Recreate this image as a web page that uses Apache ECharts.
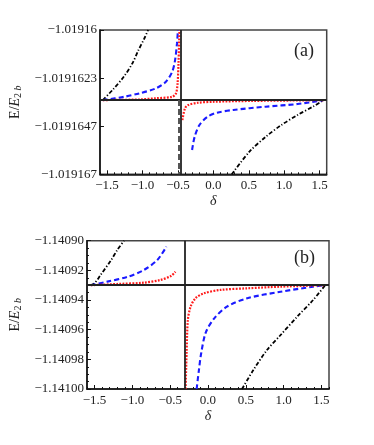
<!DOCTYPE html>
<html>
<head>
<meta charset="utf-8">
<script src="https://cdn.jsdelivr.net/npm/echarts@6/dist/echarts.min.js"></script>
<style>
  html, body { margin: 0; background: #fff; }
  #chart { width: 374px; height: 445px; }
</style>
</head>
<body>
<div id="chart"></div>
<script>
// δ axis (shared by both panels)
const deltaMin = -1.6, deltaMax = 1.6;
const deltaTicks = [-1.5, -1.0, -0.5, 0.0, 0.5, 1.0, 1.5];
const deltaLabels = ['−1.5', '−1.0', '−0.5', '0.0', '0.5', '1.0', '1.5'];

// panel (a): E/E2b as units of 1e-7 above -1.019167
const aTickLabels = ['−1.019167', '−1.0191647', '−1.0191623', '−1.01916'];
const aYMax = 70;
const aLevel = 36;          // threshold line
const aPoleSolid = -0.455;  // solid vertical line
const aPoleDashed = -0.493; // dashed vertical line (below threshold)
const aBlackLeft = [[-1.56, 36], [-1.42, 41], [-1.26, 47.5], [-1.14, 54], [-1.06, 60], [-0.98, 65.5], [-0.92, 70]];
const aBlackRight = [[0.26, 0], [0.51, 11], [0.74, 18.2], [0.96, 23.9], [1.19, 28.8], [1.42, 33.1], [1.56, 36]];
const aBlueLeft = [[-1.56, 36], [-1.26, 37.6], [-1.04, 39.3], [-0.81, 41.7], [-0.67, 44.9], [-0.58, 49.8], [-0.54, 55.4], [-0.513, 63.5], [-0.50, 70]];
const aBlueRight = [[-0.30, 11.8], [-0.264, 18.2], [-0.196, 23.9], [-0.082, 27.9], [0.054, 29.9], [0.28, 31.2], [0.74, 32.8], [1.19, 34.1], [1.56, 36]];
const aRedLeft = [[-1.56, 36], [-1.04, 36.3], [-0.81, 36.9], [-0.58, 37.6], [-0.527, 39.3], [-0.505, 44.1], [-0.492, 53.8], [-0.482, 65.1], [-0.478, 70]];
const aRedRight = [[-0.437, 26.3], [-0.40, 32], [-0.355, 33.6], [-0.22, 34.7], [0.01, 35.2], [0.55, 35.6], [1.1, 35.8], [1.56, 36]];

// panel (b): E/E2b as units of 1e-6 above -1.14100
const bTickLabels = ['−1.14100', '−1.14098', '−1.14096', '−1.14094', '−1.14092', '−1.14090'];
const bYMax = 100;
const bLevel = 70;
const bPole = -0.31;
const bBlackLeft = [[-1.55, 70], [-1.50, 71.3], [-1.42, 76.9], [-1.28, 87], [-1.20, 93.7], [-1.11, 100]];
const bBlackRight = [[0.45, 0], [0.60, 12.8], [0.78, 26.3], [0.96, 36.4], [1.18, 48.8], [1.39, 60], [1.55, 70]];
const bBlueLeft = [[-1.55, 70], [-1.33, 72.4], [-1.06, 75.7], [-0.85, 80.2], [-0.67, 87], [-0.55, 96]];
const bBlueRight = [[-0.15, 0], [-0.12, 12.8], [-0.09, 24.1], [-0.03, 38], [0.08, 47.5], [0.25, 55.5], [0.52, 61.2], [0.96, 65.6], [1.39, 69], [1.55, 70]];
const bRedLeft = [[-1.55, 70], [-1.20, 70.8], [-0.85, 71.7], [-0.63, 73.5], [-0.49, 76.2], [-0.43, 79.1]];
const bRedRight = [[-0.296, 0], [-0.283, 24.1], [-0.266, 46.5], [-0.23, 55.5], [-0.165, 61.2], [-0.055, 64.5], [0.165, 66.8], [0.52, 67.9], [0.96, 69], [1.55, 70]];

const serif = 'Liberation Serif, Times New Roman, serif';
const minorDelta = Array.from({ length: 33 }, (_, i) => +(deltaMin + i * 0.1).toFixed(1));

const lineBlack = { color: '#000', width: 1.8, type: [4, 2, 1.2, 2] };
const lineBlue = { color: '#1a1aff', width: 2.1, type: [5, 3] };
const lineRed = { color: '#ff1a1a', width: 2.2, type: [1.8, 1.4] };

const chart = echarts.init(document.getElementById('chart'));

const grids = [
  { left: 92, top: 30, width: 234.7, height: 144.3 },
  { left: 86, top: 240.7, width: 243, height: 148.3 }
];

function mainX(g, gap) {
  return {
    gridIndex: g, type: 'value', position: 'bottom', min: deltaMin, max: deltaMax,
    name: 'δ', nameLocation: 'middle', nameGap: gap,
    nameTextStyle: { fontFamily: serif, fontStyle: 'italic', fontSize: 14, color: '#222' },
    axisLine: { show: true, onZero: false, lineStyle: { color: '#111', width: 1.5 } },
    axisTick: { inside: true, length: 4, customValues: deltaTicks, lineStyle: { color: '#111' } },
    axisLabel: {
      customValues: deltaTicks, margin: 5, fontFamily: serif, fontSize: 13, color: '#222',
      formatter: v => deltaLabels[deltaTicks.findIndex(t => Math.abs(t - v) < 1e-9)]
    },
    splitLine: { show: false }
  };
}
function minorX(g) {
  return {
    gridIndex: g, type: 'value', position: 'bottom', min: deltaMin, max: deltaMax,
    axisLine: { show: false, onZero: false },
    axisTick: { inside: true, length: 2, customValues: minorDelta, lineStyle: { color: '#111' } },
    axisLabel: { show: false }, splitLine: { show: false }
  };
}
function mainY(g, max, interval, labels, gap, minor) {
  return {
    gridIndex: g, type: 'value', min: 0, max: max, interval: interval,
    name: '{n|E/}{i|E}{s|2 }{si|b}', nameLocation: 'middle', nameGap: gap,
    nameTextStyle: {
      fontFamily: serif, fontSize: 14, color: '#222',
      rich: {
        n: { fontFamily: serif, fontSize: 14, color: '#222' },
        i: { fontFamily: serif, fontSize: 14, fontStyle: 'italic', color: '#222' },
        s: { fontFamily: serif, fontSize: 10, color: '#222', verticalAlign: 'bottom', padding: [7, 0, 0, 0] },
        si: { fontFamily: serif, fontSize: 10, fontStyle: 'italic', color: '#222', verticalAlign: 'bottom', padding: [7, 0, 0, 0] }
      }
    },
    axisLine: { show: true, onZero: false, lineStyle: { color: '#111', width: 1.5 } },
    axisTick: { inside: true, length: 4, lineStyle: { color: '#111' } },
    minorTick: { show: minor, splitNumber: 4, length: 2, lineStyle: { color: '#111' } },
    axisLabel: {
      margin: 3, fontFamily: serif, fontSize: 13, color: '#222',
      formatter: (v, i) => labels[i]
    },
    splitLine: { show: false }
  };
}

function curve(name, xi, yi, data, style) {
  return {
    name: name, type: 'line', xAxisIndex: xi, yAxisIndex: yi, data: data,
    showSymbol: false, smooth: 0.3, lineStyle: style, z: 3
  };
}

const refStyle = { color: '#222', width: 1.8, type: 'solid' };

chart.setOption({
  animation: false,
  grid: grids.map(g => Object.assign({ show: true, borderColor: '#444', borderWidth: 1.5, backgroundColor: 'transparent' }, g)),
  xAxis: [mainX(0, 20), minorX(0), mainX(1, 20), minorX(1)],
  yAxis: [
    mainY(0, aYMax, aYMax / 3, aTickLabels, 68, false),
    mainY(1, bYMax, 20, bTickLabels, 60, true)
  ],
  graphic: [
    { type: 'text', left: 294, top: 42, style: { text: '(a)', font: '18px ' + serif, fill: '#222' } },
    { type: 'text', left: 294, top: 249, style: { text: '(b)', font: '18px ' + serif, fill: '#222' } }
  ],
  series: [
    {
      type: 'line', xAxisIndex: 0, yAxisIndex: 0, data: [], z: 2,
      markLine: {
        silent: true, symbol: 'none', label: { show: false }, animation: false,
        lineStyle: refStyle,
        data: [
          { yAxis: aLevel },
          { xAxis: aPoleSolid },
          [{ coord: [aPoleDashed, aLevel], lineStyle: { color: '#555', width: 2, type: [6, 3] } }, { coord: [aPoleDashed, 0] }]
        ]
      }
    },
    curve('a-black-left', 0, 0, aBlackLeft, lineBlack),
    curve('a-black-right', 0, 0, aBlackRight, lineBlack),
    curve('a-blue-left', 0, 0, aBlueLeft, lineBlue),
    curve('a-blue-right', 0, 0, aBlueRight, lineBlue),
    curve('a-red-left', 0, 0, aRedLeft, lineRed),
    curve('a-red-right', 0, 0, aRedRight, lineRed),
    {
      type: 'line', xAxisIndex: 2, yAxisIndex: 1, data: [], z: 2,
      markLine: {
        silent: true, symbol: 'none', label: { show: false }, animation: false,
        lineStyle: refStyle,
        data: [{ yAxis: bLevel }, { xAxis: bPole }]
      }
    },
    curve('b-black-left', 2, 1, bBlackLeft, lineBlack),
    curve('b-black-right', 2, 1, bBlackRight, lineBlack),
    curve('b-blue-left', 2, 1, bBlueLeft, lineBlue),
    curve('b-blue-right', 2, 1, bBlueRight, lineBlue),
    curve('b-red-left', 2, 1, bRedLeft, lineRed),
    curve('b-red-right', 2, 1, bRedRight, lineRed)
  ]
});
</script>
</body>
</html>
